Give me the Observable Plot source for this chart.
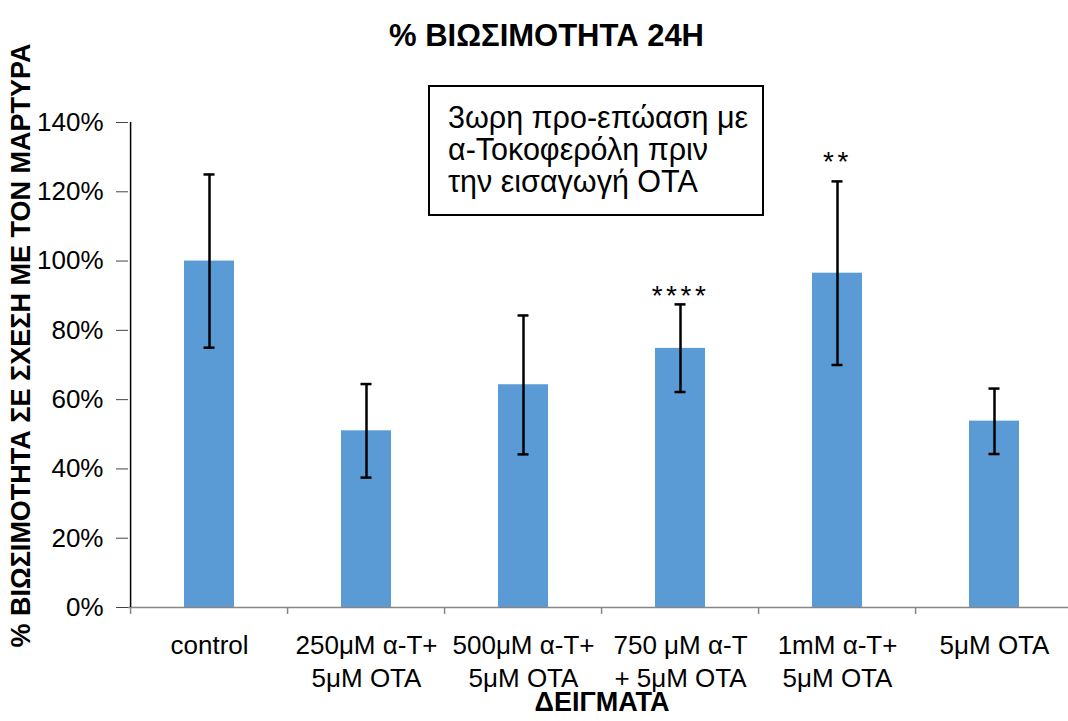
<!DOCTYPE html>
<html>
<head>
<meta charset="utf-8">
<script src="https://cdn.jsdelivr.net/npm/d3@7"></script>
<script src="https://cdn.jsdelivr.net/npm/@observablehq/plot@0.6"></script>
<style>
  body { margin: 0; background: #fff; }
  #wrap { position: relative; width: 1068px; height: 721px; font-family: "Liberation Sans", Arial, sans-serif; }
  #wrap svg { position: absolute; left: 0; top: 0; overflow: visible; }
  #note {
    position: absolute; left: 428px; top: 85px; width: 336px; height: 131px;
    box-sizing: border-box; border: 2px solid #000; background: #fff;
    padding: 14px 0 0 18px; font-size: 30.5px; line-height: 32px; color: #000;
    white-space: nowrap;
  }
</style>
</head>
<body>
<div id="wrap"></div>
<script>
const title = "% ΒΙΩΣΙΜΟΤΗΤΑ 24Η";
const xTitle = "ΔΕΙΓΜΑΤΑ";
const yTitle = "% ΒΙΩΣΙΜΟΤΗΤΑ ΣΕ ΣΧΕΣΗ ΜΕ ΤΟΝ ΜΑΡΤΥΡΑ";
const noteLines = ["3ωρη προ-επώαση με", "α-Τοκοφερόλη πριν", "την εισαγωγή ΟΤΑ"];

const categories = [
  "control",
  "250μM α-T+\n5μM OTA",
  "500μM α-T+\n5μM OTA",
  "750 μM α-T\n+ 5μM OTA",
  "1mM α-T+\n5μM OTA",
  "5μM OTA"
];
const means   = [100, 51.0, 64.3, 74.8, 96.5, 53.8];
const errLow  = [75.0, 37.5, 44.2, 62.2, 70.0, 44.3];
const errHigh = [125.0, 64.5, 84.3, 87.5, 123.0, 63.2];
const stars      = ["", "", "", "****", "**", ""];
const starLevels = [null, null, null, 90, 128.5, null];
const yTicks = [0, 20, 40, 60, 80, 100, 120, 140];

const data = categories.map((c, i) => ({
  cat: c, mean: means[i], lo: errLow[i], hi: errHigh[i], star: stars[i], starY: starLevels[i]
}));
const starData = data.filter(d => d.star);

const W = 1068, H = 721;
const xRange = [128, 1075];
const step = (xRange[1] - xRange[0]) / categories.length;
const FONT = "Liberation Sans, Arial, sans-serif";
const frameMidX = (128 + W) / 2;

const plot = Plot.plot({
  width: W, height: H,
  marginTop: 122, marginBottom: 114, marginLeft: 128, marginRight: 0,
  style: { fontFamily: FONT, background: "#fff", overflow: "visible" },
  x: { type: "band", domain: categories, range: xRange, paddingInner: 0.68, paddingOuter: 0.34, label: null },
  y: { domain: [0, 140], label: null },
  marks: [
    Plot.barY(data, { x: "cat", y: "mean", fill: "#5B9BD5" }),
    Plot.ruleY([0], { stroke: "#868686", strokeWidth: 1.5 }),
    Plot.ruleX(data, { x: "cat", y1: () => 0, y2: () => 0, dx: -step / 2, insetBottom: -7, stroke: "#868686", strokeWidth: 1.5 }),
    Plot.ruleX([categories[0]], { x: d => d, y1: () => 0, y2: () => 140, dx: -step / 2, stroke: "#000", strokeWidth: 1.5 }),
    Plot.ruleX(data, { x: "cat", y1: "lo", y2: "hi", stroke: "#000", strokeWidth: 2.5 }),
    Plot.tickY(data, { x: "cat", y: "lo", stroke: "#000", strokeWidth: 2.5, insetLeft: 19.5, insetRight: 19.5 }),
    Plot.tickY(data, { x: "cat", y: "hi", stroke: "#000", strokeWidth: 2.5, insetLeft: 19.5, insetRight: 19.5 }),
    Plot.text(starData, { x: "cat", y: "starY", text: "star", fontSize: 28, fill: "#000" }),
    Plot.axisY(yTicks, { tickFormat: d => d + "%", tickSize: 12, tickPadding: 13, fontSize: 26, stroke: "#444", color: "#000", label: null }),
    Plot.axisX({ tickSize: 0, tickPadding: 23, fontSize: 26, lineHeight: 1.27, label: null, color: "#000" }),
    Plot.text([title], { frameAnchor: "top", dx: 546 - frameMidX, dy: -99, fontSize: 31, fontWeight: "bold", fill: "#000" }),
    Plot.text([xTitle], { frameAnchor: "bottom", dy: 103, dx: (xRange[0] + xRange[1]) / 2 - frameMidX, fontSize: 27, fontWeight: "bold", fill: "#000" }),
    Plot.text([yTitle], { frameAnchor: "left", textAnchor: "middle", rotate: -90, dx: -107, dy: -19.5, fontSize: 27, fontWeight: "bold", fill: "#000" })
  ]
});

d3.select(plot).selectAll("text").filter(function () { return /^\*+$/.test(this.textContent); })
  .style("letter-spacing", "3.5px");

const wrap = document.getElementById("wrap");
wrap.appendChild(plot);
const note = document.createElement("div");
note.id = "note";
note.innerHTML = noteLines.join("<br>");
wrap.appendChild(note);
</script>
</body>
</html>
